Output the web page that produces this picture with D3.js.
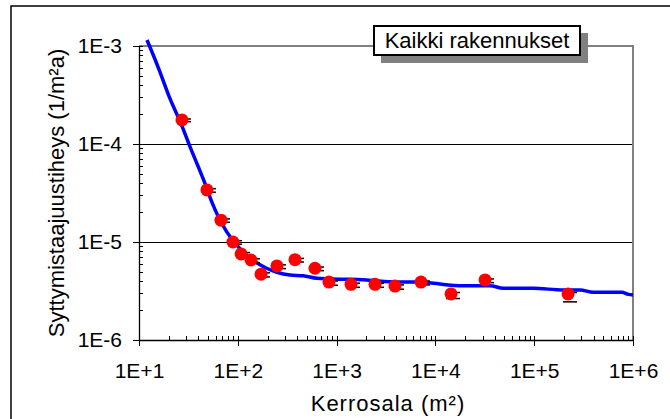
<!DOCTYPE html>
<html>
<head>
<meta charset="utf-8">
<script src="https://cdn.jsdelivr.net/npm/d3@7"></script>
<style>
  body { margin: 0; background: #fff; }
  text { font-family: "Liberation Sans", Arial, sans-serif; fill: #000; }
</style>
</head>
<body>
<script>
// measured points
var pointX = [27.2, 48.7, 67.6, 89.3, 108, 136, 172, 249, 379, 604, 837, 1400, 2450, 3900, 7150, 14400, 31800, 220000];
var pointY = [1.76e-4, 3.4e-5, 1.67e-5, 1.0e-5, 7.55e-6, 6.55e-6, 4.7e-6, 5.7e-6, 6.6e-6, 5.4e-6, 3.9e-6, 3.7e-6, 3.7e-6, 3.55e-6, 3.9e-6, 2.95e-6, 4.1e-6, 2.95e-6];
var errLow = [1.69e-4, 3.22e-5, 1.59e-5, 9.5e-6, 7.1e-6, 6.15e-6, 4.4e-6, 5.35e-6, 6.25e-6, 5.1e-6, 3.62e-6, 3.45e-6, 3.45e-6, 3.3e-6, 3.65e-6, 2.65e-6, 3.85e-6, 2.45e-6];
var errHigh = [1.8e-4, 3.5e-5, 1.72e-5, 1.03e-5, 7.8e-6, 6.75e-6, 4.85e-6, 5.85e-6, 6.8e-6, 5.55e-6, 4.0e-6, 3.8e-6, 3.8e-6, 3.65e-6, 4.0e-6, 3.05e-6, 4.2e-6, 3.05e-6];

// fitted curve
var fitX = [12.05, 15.6, 20.6, 27.0, 32.8, 39.8, 46.5, 54.4, 63.5, 77.3, 97.5, 133, 196, 248, 337, 460, 629, 857, 1370, 2020, 4060, 6980, 9530, 19150, 35700, 48700, 97900, 197000, 291000, 396000, 769000, 896000, 1000000];
var fitY = [1.15e-3, 6.1e-4, 2.9e-4, 1.56e-4, 9.4e-5, 5.86e-5, 3.97e-5, 2.58e-5, 1.81e-5, 1.27e-5, 9.3e-6, 6.82e-6, 5.4e-6, 4.91e-6, 4.6e-6, 4.53e-6, 4.26e-6, 4.2e-6, 4.16e-6, 4.09e-6, 3.91e-6, 3.91e-6, 3.79e-6, 3.58e-6, 3.58e-6, 3.37e-6, 3.37e-6, 3.24e-6, 3.24e-6, 3.07e-6, 3.07e-6, 2.92e-6, 2.88e-6];

var xTicks = [1e1, 1e2, 1e3, 1e4, 1e5, 1e6];
var xTickLabels = ["1E+1", "1E+2", "1E+3", "1E+4", "1E+5", "1E+6"];
var yTicks = [1e-6, 1e-5, 1e-4, 1e-3];
var yTickLabels = ["1E-6", "1E-5", "1E-4", "1E-3"];

var legendText = "Kaikki rakennukset";
var xTitle = "Kerrosala (m²)";
var yTitle = "Syttymistaajuustiheys  (1/m²a)";

var svgWidth = 670;
var svgHeight = 419;
var margin = {top: 46, right: 37, bottom: 79, left: 139};

var svg = d3.select("body")
        .append("svg")
        .attr("width", svgWidth)
        .attr("height", svgHeight);

// outer chart frame (runs off the window)
svg.append("rect")
        .attr("x", 11).attr("y", 6)
        .attr("width", 700).attr("height", 450)
        .attr("fill", "none")
        .attr("stroke", "#000")
        .attr("stroke-width", 1.5);

var xScale = d3.scaleLog()
        .domain([1e1, 1e6])
        .range([margin.left, svgWidth - margin.right]);

var yScale = d3.scaleLog()
        .domain([1e-6, 1e-3])
        .range([svgHeight - margin.bottom, margin.top]);

var x0 = xScale.range()[0], x1 = xScale.range()[1];
var y0 = yScale.range()[0], y1 = yScale.range()[1];

// minor ticks
var xMinor = [];
for (var e = 1; e < 6; e++) {
    for (var m = 2; m <= 9; m++) xMinor.push(m * Math.pow(10, e));
}
var yMinor = [];
for (var e2 = -6; e2 < -3; e2++) {
    for (var m2 = 2; m2 <= 9; m2++) yMinor.push(m2 * Math.pow(10, e2));
}

// grid lines (major only)
svg.append("g")
        .attr("shape-rendering", "crispEdges")
        .selectAll("line")
        .data([1e-5, 1e-4])
        .enter()
        .append("line")
        .attr("x1", x0).attr("x2", x1)
        .attr("y1", function (d) { return yScale(d); })
        .attr("y2", function (d) { return yScale(d); })
        .attr("stroke", "#000")
        .attr("stroke-width", 1);

// gray top and right border
svg.append("path")
        .attr("d", "M" + x0 + "," + y1 + "H" + x1 + "V" + y0)
        .attr("fill", "none")
        .attr("stroke", "#808080")
        .attr("stroke-width", 2);

// axes
var xAxis = d3.axisBottom(xScale)
        .tickValues(xTicks)
        .tickFormat(function (d, i) { return xTickLabels[i]; })
        .tickSizeInner(6)
        .tickSizeOuter(0)
        .tickPadding(17);

var yAxis = d3.axisLeft(yScale)
        .tickValues(yTicks)
        .tickFormat(function (d, i) { return yTickLabels[i]; })
        .tickSizeInner(6)
        .tickSizeOuter(0)
        .tickPadding(11);

var gx = svg.append("g")
        .attr("transform", "translate(0," + y0 + ")")
        .call(xAxis);
svg.append("g")
        .attr("class", "minor")
        .attr("transform", "translate(0," + y0 + ")")
        .call(d3.axisBottom(xScale).tickValues(xMinor.concat(xTicks)).tickSize(-4).tickFormat("").tickSizeOuter(0))
        .select(".domain").remove();

var gy = svg.append("g")
        .attr("transform", "translate(" + x0 + ",0)")
        .call(yAxis);
svg.append("g")
        .attr("class", "minor")
        .attr("transform", "translate(" + x0 + ",0)")
        .call(d3.axisLeft(yScale).tickValues(yMinor.concat(yTicks)).tickSize(-4).tickFormat("").tickSizeOuter(0))
        .select(".domain").remove();

svg.selectAll(".tick line").attr("stroke", "#000").attr("shape-rendering", "crispEdges");
svg.selectAll(".domain").attr("stroke", "#000").attr("stroke-width", 1.3);
gx.attr("font-family", null).attr("font-size", null);
gy.attr("font-family", null).attr("font-size", null);
gx.selectAll("text").style("font-size", "21px");
gy.selectAll("text").style("font-size", "21px");

// axis titles
svg.append("text")
        .attr("x", (x0 + x1) / 2 + 2)
        .attr("y", 411)
        .attr("text-anchor", "middle")
        .style("font-size", "22px")
        .style("letter-spacing", "1px")
        .text(xTitle);

svg.append("text")
        .attr("transform", "translate(64," + ((y0 + y1) / 2) + ") rotate(-90)")
        .attr("text-anchor", "middle")
        .style("font-size", "22px")
        .text(yTitle);

// fitted line
var line = d3.line()
        .x(function (d) { return xScale(d[0]); })
        .y(function (d) { return yScale(d[1]); })
        .curve(d3.curveMonotoneX);

svg.append("path")
        .datum(d3.zip(fitX, fitY))
        .attr("d", line)
        .attr("fill", "none")
        .attr("stroke", "#0000ff")
        .attr("stroke-width", 3.5);

// error bar caps
var pts = d3.range(pointX.length);
var caps = svg.append("g");
pts.forEach(function (i) {
    [errLow[i], errHigh[i]].forEach(function (v) {
        caps.append("line")
                .attr("x1", xScale(pointX[i]) - 5)
                .attr("x2", xScale(pointX[i]) + 9)
                .attr("y1", yScale(v))
                .attr("y2", yScale(v))
                .attr("stroke", "#000")
                .attr("stroke-width", 1.5);
    });
});

svg.append("g")
        .selectAll("circle")
        .data(pts)
        .enter()
        .append("circle")
        .attr("cx", function (i) { return xScale(pointX[i]); })
        .attr("cy", function (i) { return yScale(pointY[i]); })
        .attr("r", 6.5)
        .attr("fill", "#ff0000");

// legend box with shadow
var lg = svg.append("g");
lg.append("rect")
        .attr("x", 381).attr("y", 33)
        .attr("width", 207).attr("height", 30)
        .attr("fill", "#808080");
lg.append("rect")
        .attr("x", 374).attr("y", 26)
        .attr("width", 206).attr("height", 29)
        .attr("fill", "#fff")
        .attr("stroke", "#000")
        .attr("stroke-width", 2);
lg.append("text")
        .attr("x", 477)
        .attr("y", 48)
        .attr("text-anchor", "middle")
        .style("font-size", "22px")
        .text(legendText);
</script>
</body>
</html>
